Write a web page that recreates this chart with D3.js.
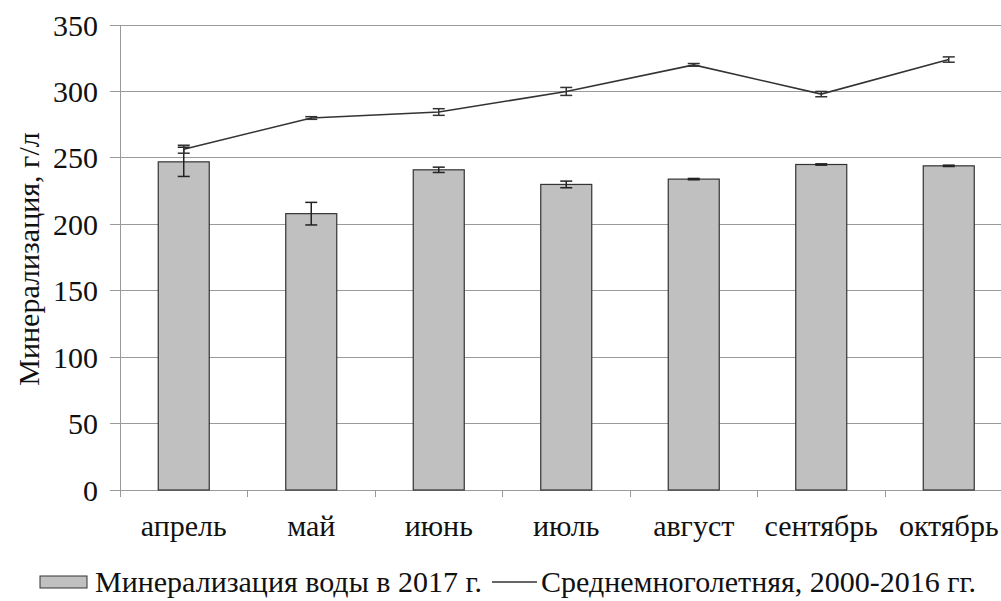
<!DOCTYPE html>
<html><head><meta charset="utf-8">
<script src="https://cdn.jsdelivr.net/npm/d3@7"></script>
<style>
body{margin:0;background:#fff;}
svg{display:block;}
</style></head>
<body>
<svg id="c" width="1001" height="601" font-family="'Liberation Serif', 'DejaVu Serif', serif"></svg>
<script>
const months = ["апрель","май","июнь","июль","август","сентябрь","октябрь"];
const bars2017 = [247, 208, 241, 230, 234, 245, 244];
const bars2017Err = [11, 8.5, 2, 2.5, 0.5, 0.5, 0.5];
const longTerm = [256.5, 280, 284.5, 300, 320, 298, 324];
const longTermErr = [3, 1, 2.5, 3, 1, 2, 2];
const yTicks = [0, 50, 100, 150, 200, 250, 300, 350];
const legendBarLabel = "Минерализация воды в 2017 г.";
const legendLineLabel = "Среднемноголетняя, 2000-2016 гг.";
const yTitle = "Минерализация, г/л";

const FONT = "'Liberation Serif', 'DejaVu Serif', serif";
const svg = d3.select("#c");
const x = d3.scaleBand().domain(months).range([120, 1012.5]).paddingInner(0.6).paddingOuter(0.3);
const y = d3.scaleLinear().domain([0, 350]).range([490, 25]);
const grid = "#9a9a9a";

svg.append("g").selectAll("line").data(yTicks).join("line")
  .attr("x1", 110).attr("x2", 1001)
  .attr("y1", d => y(d)).attr("y2", d => y(d))
  .attr("stroke", grid).attr("stroke-width", 1).attr("shape-rendering","crispEdges");
svg.append("line").attr("x1",120).attr("x2",120).attr("y1",y(350)).attr("y2",y(0))
  .attr("stroke", grid).attr("shape-rendering","crispEdges");
const step = x.step();
const bounds = d3.range(months.length + 1).map(i => x.range()[0] + i * step);
svg.append("g").selectAll("line").data(bounds).join("line")
  .attr("x1", d => d).attr("x2", d => d).attr("y1", y(0)).attr("y2", y(0) + 7)
  .attr("stroke", grid).attr("shape-rendering","crispEdges");

const txt = sel => sel.attr("font-family", FONT).attr("font-size", 30).attr("fill", "#111");

svg.append("g").selectAll("text").data(yTicks).join("text")
  .attr("x", 98).attr("y", d => y(d)).attr("dy", "0.35em")
  .attr("text-anchor","end").call(txt).text(d => d);

svg.append("text").attr("transform", "translate(39,259) rotate(-90)")
  .attr("text-anchor","middle").call(txt).text(yTitle);

svg.append("g").selectAll("text").data(months).join("text")
  .attr("x", d => x(d) + x.bandwidth()/2).attr("y", 536)
  .attr("text-anchor","middle").call(txt).text(d => d);

svg.append("g").selectAll("rect").data(months).join("rect")
  .attr("x", d => x(d)).attr("width", x.bandwidth())
  .attr("y", (d,i) => y(bars2017[i])).attr("height", (d,i) => y(0) - y(bars2017[i]))
  .attr("fill", "#c0c0c0").attr("stroke", "#333").attr("stroke-width", 1.2);

function errorBars(vals, errs, color) {
  const g = svg.append("g").attr("stroke", color).attr("stroke-width", 1.5);
  months.forEach((m, i) => {
    const cx = x(m) + x.bandwidth()/2;
    const lo = y(vals[i] - errs[i]), hi = y(vals[i] + errs[i]);
    g.append("line").attr("x1", cx).attr("x2", cx).attr("y1", lo).attr("y2", hi);
    g.append("line").attr("x1", cx - 6).attr("x2", cx + 6).attr("y1", lo).attr("y2", lo);
    g.append("line").attr("x1", cx - 6).attr("x2", cx + 6).attr("y1", hi).attr("y2", hi);
  });
}
errorBars(bars2017, bars2017Err, "#222");

const line = d3.line().x((d,i) => x(months[i]) + x.bandwidth()/2).y(d => y(d));
svg.append("path").datum(longTerm).attr("d", line)
  .attr("fill","none").attr("stroke","#333").attr("stroke-width",1.6);
errorBars(longTerm, longTermErr, "#333");

svg.append("rect").attr("x", 40).attr("y", 576).attr("width", 47).attr("height", 12)
  .attr("fill", "#c0c0c0").attr("stroke", "#333").attr("stroke-width", 1);
svg.append("text").attr("x", 95).attr("y", 592).call(txt).text(legendBarLabel);
svg.append("line").attr("x1", 492).attr("x2", 537).attr("y1", 582).attr("y2", 582)
  .attr("stroke", "#333").attr("stroke-width", 1.6);
svg.append("text").attr("x", 541).attr("y", 592).call(txt).text(legendLineLabel);
</script>
</body></html>
